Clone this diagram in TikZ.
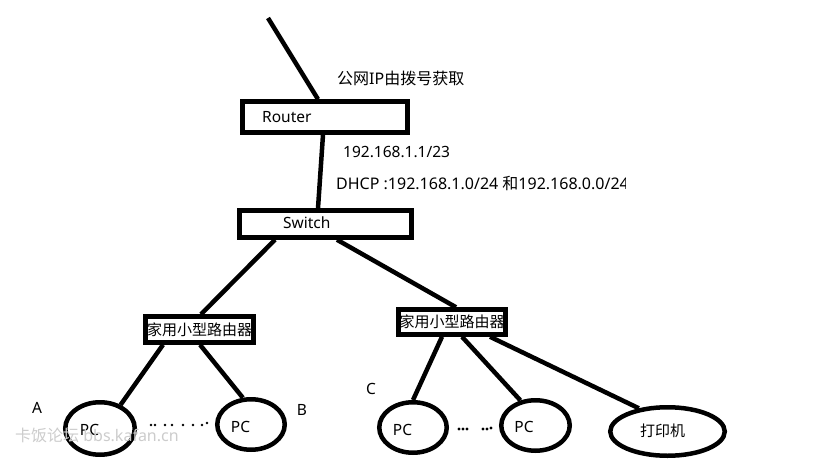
\documentclass[tikz,border=0pt]{standalone}
\usepackage{fontspec}
\setmainfont{Noto Sans}
\newfontfamily\cjk{Noto Sans CJK SC}
\usetikzlibrary{shapes.geometric}
\begin{document}
\begin{tikzpicture}[x=1pt,y=-1pt,
  box/.style={draw, line width=4.5pt, inner sep=0pt, rectangle},
  pc/.style={draw, line width=4.5pt, inner sep=0pt, ellipse},
  link/.style={line width=4.5pt},
  lbl/.style={inner sep=0pt, font=\fontsize{15.5}{18}\selectfont},
  cjklbl/.style={inner sep=0pt, font=\fontsize{15}{18}\selectfont\cjk},
  dotfill/.style={fill=black}
]
\useasboundingbox[fill=white] (0,0) rectangle (819,460);

% boxes
\node[box, minimum width=165pt, minimum height=31pt] (router) at (325,117) {};
\node[lbl, anchor=west] (routertxt) at (262,117) {Router};
\node[box, minimum width=172pt, minimum height=27pt] (switch) at (325.5,224) {};
\node[lbl, anchor=west] (switchtxt) at (283,223) {Switch};
\node[box, cjklbl, minimum width=108pt, minimum height=26pt] (lr) at (199.5,329.5) {家用小型路由器};
\node[box, cjklbl, minimum width=107pt, minimum height=25pt] (rr) at (452,322) {家用小型路由器};

% end devices
\node[pc, minimum width=69.5pt, minimum height=52.5pt] (pcA) at (100,428.5) {};
\node[pc, minimum width=67.5pt, minimum height=50.5pt] (pcB) at (251,424.5) {};
\node[pc, minimum width=67.5pt, minimum height=50.5pt] (pcC) at (413,427.5) {};
\node[pc, minimum width=68.5pt, minimum height=50.5pt] (pcD) at (535.5,425.5) {};
\node[pc, minimum width=114.5pt, minimum height=48.5pt] (prn) at (667.5,431.5) {};
\node[lbl] (pcAt) at (89.5,430) {PC};
\node[lbl] (pcBt) at (240.5,427) {PC};
\node[lbl] (pcCt) at (402.5,430) {PC};
\node[lbl] (pcDt) at (524,427) {PC};
\node[cjklbl] (prnt) at (662.5,431) {打印机};

% connectors
\coordinate (ant) at (268,18);
\draw[link] (ant) -- ([xshift=-7pt]router.north);
\draw[link] ([xshift=-2pt]router.south) -- ([xshift=-7.5pt]switch.north);
\draw[link] ([xshift=-50.5pt]switch.south) -- ([xshift=1.5pt]lr.north);
\draw[link] ([xshift=11.5pt]switch.south) -- ([xshift=4pt]rr.north);
\draw[link] ([xshift=-36.5pt]lr.south) -- (pcA.49);
\draw[link] ([xshift=0.5pt]lr.south) -- (pcB.107);
\draw[link] ([xshift=-10pt]rr.south) -- (pcC.90);
\draw[link] ([xshift=10pt]rr.south) -- (pcD.121);
\draw[link] ([xshift=38pt]rr.south) -- (prn.141);

% labels
\node[inner sep=0pt, anchor=west, font=\fontsize{16}{18}\selectfont] (wan) at (337,78) {{\cjk 公网}IP{\cjk 由拨号获取}};
\node[lbl, anchor=west] (ip) at (343,152) {192.168.1.1/23};
\begin{scope}
\clip (0,165) rectangle (625,200);
\node[inner sep=0pt, anchor=west, font=\fontsize{16}{18}\selectfont] (dhcp) at (336,183) {DHCP :192.168.1.0/24 {\cjk 和}192.168.0.0/24};
\end{scope}
\node[lbl] (la) at (37,408) {A};
\node[lbl] (lb) at (302,410) {B};
\node[lbl] (lc) at (371,389) {C};

% dots between PCs
\foreach \x/\y in {151/425,155/425,165/425,172/425,183/425,193/425,202/425,207/423}
  \fill[dotfill] (\x,\y) circle (1.3pt);
\foreach \x/\y in {459/429,463/429,467/429,483/429,487/429,491/428}
  \fill[dotfill] (\x,\y) circle (1.6pt);

% watermark
\node[inner sep=0pt, anchor=west, text=gray!40, font=\fontsize{16}{18}\selectfont] (wm) at (15,435) {{\cjk 卡饭论坛} bbs.kafan.cn};
\end{tikzpicture}
\end{document}
